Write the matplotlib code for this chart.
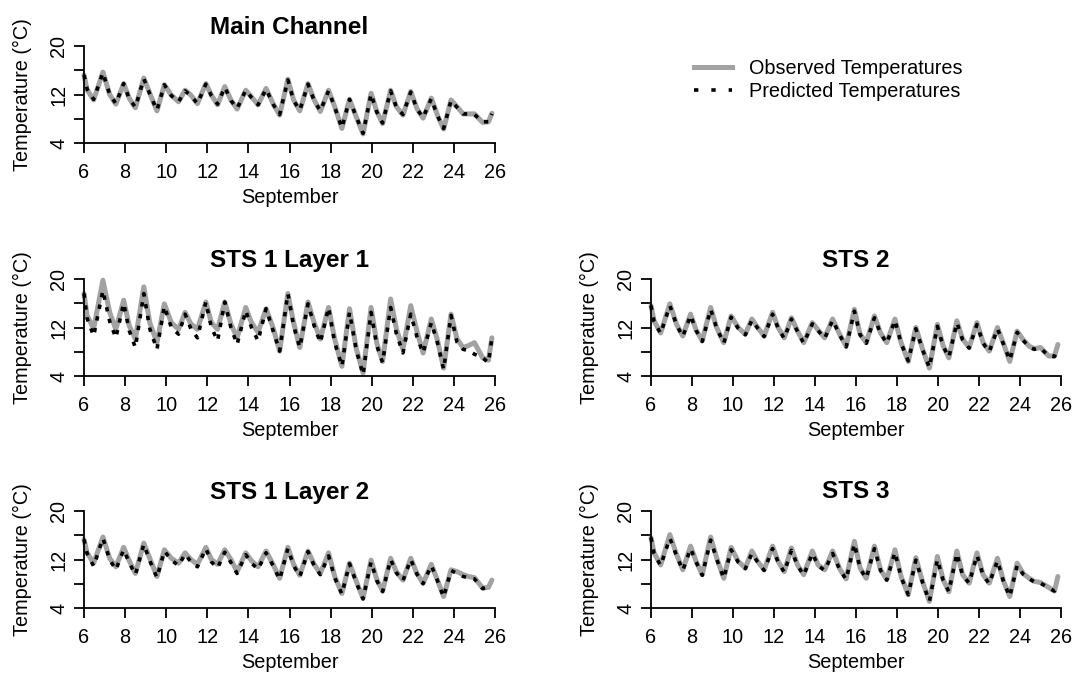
import matplotlib
matplotlib.use("Agg")
import matplotlib.pyplot as plt
from matplotlib.lines import Line2D

plt.rcParams['font.family'] = ['Liberation Sans', 'DejaVu Sans']

# Sample times (day of September)
time_days = [6.00, 6.15, 6.47, 6.92,
             7.25, 7.55, 7.93,
             8.20, 8.50, 8.91,
             9.20, 9.55, 9.91,
             10.25, 10.60, 10.92,
             11.20, 11.52, 11.93,
             12.20, 12.50, 12.85,
             13.15, 13.45, 13.87,
             14.15, 14.47, 14.86,
             15.20, 15.52, 15.92,
             16.20, 16.50, 16.90,
             17.20, 17.50, 17.90,
             18.20, 18.55, 18.92,
             19.25, 19.58, 19.97,
             20.25, 20.53, 20.92,
             21.20, 21.52, 21.90,
             22.20, 22.50, 22.90,
             23.20, 23.50, 23.86,
             24.15, 24.45, 24.70, 25.00, 25.40, 25.68, 25.85]

# Main Channel
main_obs = [15.2, 12.8, 11.1, 15.7,
            12.0, 10.4, 13.8,
            11.4, 9.8, 14.7,
            12.2, 9.3, 13.6,
            11.9, 10.8, 12.7,
            11.9, 10.5, 13.8,
            11.9, 10.3, 13.3,
            11.1, 9.6, 12.7,
            11.6, 10.3, 13.0,
            10.5, 8.6, 14.5,
            11.1, 9.3, 13.8,
            11.1, 9.2, 12.7,
            10.0, 6.4, 11.2,
            8.3, 5.5, 12.2,
            9.2, 7.2, 12.7,
            10.0, 8.6, 12.5,
            9.7, 8.1, 11.4,
            8.6, 6.3, 11.1,
            10.0, 8.8, 8.8, 8.8, 7.4, 7.5, 8.9]
main_pred = [15.2, 12.9, 11.2, 15.6,
             12.0, 10.5, 13.8,
             11.3, 9.9, 14.6,
             12.1, 9.4, 13.6,
             11.8, 10.8, 12.6,
             11.8, 10.5, 13.7,
             11.8, 10.4, 13.2,
             11.0, 9.7, 12.7,
             11.5, 10.3, 12.9,
             10.4, 8.7, 14.4,
             11.0, 9.4, 13.7,
             11.0, 9.3, 12.6,
             9.9, 6.5, 11.2,
             8.3, 5.6, 12.1,
             9.1, 7.3, 12.6,
             9.9, 8.7, 12.4,
             9.6, 8.2, 11.3,
             8.5, 6.4, 11.0,
             9.9, 8.8, 8.8, 8.7, 7.5, 7.5, 8.8]

# STS 1 Layer 1
sts1l1_obs = [17.6, 14.0, 11.8, 19.8,
              14.5, 11.7, 16.5,
              12.3, 10.1, 18.7,
              12.8, 9.5, 15.9,
              12.8, 11.7, 14.5,
              12.6, 11.7, 16.2,
              12.8, 11.7, 16.2,
              12.6, 10.3, 15.3,
              12.8, 11.2, 15.1,
              12.0, 8.1, 17.6,
              12.8, 8.7, 16.2,
              12.8, 10.1, 15.3,
              10.1, 5.6, 15.1,
              8.5, 4.5, 15.3,
              9.4, 6.4, 16.7,
              11.8, 8.4, 15.6,
              11.4, 7.8, 13.4,
              9.9, 5.3, 14.2,
              10.1, 8.7, 9.0, 9.5, 7.0, 6.6, 10.3]
sts1l1_pred = [17.6, 13.5, 10.6, 18.1,
               13.0, 10.3, 16.0,
               11.5, 8.7, 17.6,
               11.8, 8.4, 15.5,
               12.0, 10.9, 14.2,
               11.8, 10.3, 16.2,
               12.0, 9.8, 16.2,
               12.0, 9.2, 14.8,
               12.0, 9.8, 15.1,
               11.5, 8.1, 17.6,
               12.3, 8.7, 15.9,
               12.3, 9.5, 15.3,
               9.5, 5.6, 14.5,
               8.3, 4.2, 14.5,
               9.0, 6.2, 15.3,
               11.0, 7.8, 14.2,
               10.5, 7.8, 12.8,
               9.5, 5.1, 14.0,
               9.6, 8.4, 8.2, 7.6, 7.0, 6.2, 10.3]

# STS 2
sts2_obs = [15.6, 13.1, 11.1, 15.9,
            12.5, 10.6, 14.2,
            11.6, 9.8, 15.3,
            12.0, 9.5, 13.9,
            12.0, 10.9, 13.4,
            12.0, 10.6, 14.5,
            12.0, 10.3, 13.6,
            11.4, 9.5, 12.8,
            11.6, 10.3, 13.4,
            10.9, 8.9, 15.0,
            10.9, 9.5, 13.9,
            11.1, 9.5, 13.4,
            9.5, 6.4, 12.0,
            8.4, 5.3, 12.5,
            9.0, 7.0, 13.1,
            10.1, 8.7, 12.8,
            9.5, 8.1, 12.0,
            9.3, 6.4, 11.4,
            10.0, 8.9, 8.5, 8.7, 7.3, 7.3, 9.2]
sts2_pred = [15.6, 13.0, 11.0, 15.6,
             12.4, 10.5, 14.0,
             11.5, 9.7, 15.0,
             11.9, 9.4, 13.7,
             11.9, 10.8, 13.2,
             11.9, 10.5, 14.2,
             11.9, 10.2, 13.4,
             11.3, 9.4, 12.6,
             11.5, 10.2, 13.2,
             10.8, 8.8, 14.7,
             10.8, 9.4, 13.6,
             11.0, 9.4, 13.2,
             9.4, 6.5, 11.8,
             8.3, 5.4, 12.2,
             8.9, 7.1, 12.8,
             10.0, 8.6, 12.5,
             9.4, 8.0, 11.8,
             9.2, 6.6, 11.2,
             9.9, 8.8, 8.4, 8.6, 7.3, 7.2, 8.6]

# STS 1 Layer 2
sts1l2_obs = [15.3, 13.1, 11.4, 15.7,
              12.2, 10.8, 14.0,
              11.8, 9.7, 14.7,
              12.2, 9.2, 13.6,
              12.2, 11.4, 13.1,
              12.0, 11.2, 14.0,
              12.0, 11.2, 13.6,
              12.0, 10.0, 13.1,
              11.8, 10.8, 13.4,
              11.2, 8.9, 14.0,
              11.2, 9.4, 13.4,
              11.2, 9.7, 13.1,
              9.2, 6.4, 11.4,
              8.4, 5.6, 11.9,
              8.7, 6.8, 12.2,
              10.0, 8.6, 12.2,
              9.7, 8.1, 11.2,
              8.6, 5.9, 10.3,
              10.0, 9.5, 9.2, 9.0, 7.3, 7.4, 8.6]
sts1l2_pred = [15.3, 13.0, 10.9, 15.5,
               12.0, 10.3, 13.6,
               11.5, 9.5, 14.5,
               11.8, 9.0, 13.4,
               11.9, 11.0, 12.9,
               11.6, 10.8, 13.8,
               11.6, 10.6, 13.2,
               11.5, 9.7, 12.8,
               11.4, 10.4, 13.1,
               11.0, 8.7, 13.8,
               11.0, 9.2, 13.3,
               11.0, 9.5, 12.6,
               9.0, 6.3, 11.3,
               8.2, 5.5, 11.6,
               8.5, 6.7, 12.0,
               9.8, 8.5, 12.0,
               9.6, 8.0, 11.0,
               8.5, 5.8, 10.2,
               9.7, 9.2, 9.0, 8.8, 7.2, 7.4, 7.4]

# STS 3
sts3_obs = [15.6, 13.1, 11.1, 16.1,
            12.8, 10.3, 14.2,
            11.7, 9.5, 15.7,
            12.3, 8.9, 14.0,
            11.7, 10.6, 13.4,
            11.7, 10.3, 14.2,
            11.7, 10.0, 13.9,
            11.1, 9.5, 13.4,
            11.1, 10.3, 13.4,
            10.5, 8.8, 15.0,
            10.6, 8.9, 14.2,
            10.3, 8.7, 13.6,
            9.2, 6.2, 12.3,
            8.3, 5.1, 12.5,
            8.7, 6.7, 13.4,
            9.5, 8.1, 13.1,
            9.5, 8.1, 12.2,
            8.4, 5.9, 11.4,
            9.7, 8.9, 8.4, 8.2, 7.4, 6.8, 9.2]
sts3_pred = [15.6, 13.0, 11.0, 15.5,
             12.6, 10.2, 13.8,
             11.6, 9.4, 15.2,
             12.1, 8.9, 13.6,
             11.6, 10.5, 13.0,
             11.6, 10.2, 13.8,
             11.6, 9.9, 13.5,
             11.0, 9.4, 13.0,
             11.0, 10.2, 13.0,
             10.4, 8.7, 14.6,
             10.5, 8.9, 13.8,
             10.2, 8.6, 13.2,
             9.1, 6.2, 11.9,
             8.2, 5.1, 12.0,
             8.6, 6.7, 13.0,
             9.4, 8.1, 12.7,
             9.4, 8.0, 11.8,
             8.3, 5.9, 11.0,
             9.6, 8.8, 8.3, 8.1, 7.3, 6.8, 7.4]

x_ticks = list(range(6, 27, 2))
y_ticks = [4, 8, 12, 16, 20]
y_tick_labels = ['4', '', '12', '', '20']

OBS_COLOR = '#A2A2A2'
OBS_LW = 3.6
PRED_LW = 2.6
PRED_STYLE = (0, (1.2, 2.1))

W, H = 1074, 673
fig = plt.figure(figsize=(W / 100, H / 100), dpi=100)


def px_axes(left, top, right, bottom):
    return fig.add_axes([left / W, 1 - bottom / H, (right - left) / W, (bottom - top) / H])


panels = [
    ("Main Channel", main_obs, main_pred, (84, 46, 495, 143)),
    ("STS 1 Layer 1", sts1l1_obs, sts1l1_pred, (84, 279, 495, 376)),
    ("STS 2", sts2_obs, sts2_pred, (651, 279, 1061, 376)),
    ("STS 1 Layer 2", sts1l2_obs, sts1l2_pred, (84, 511, 495, 608)),
    ("STS 3", sts3_obs, sts3_pred, (651, 511, 1061, 608)),
]

FS = 14.3
for title, obs, pred, box in panels:
    ax = px_axes(*box)
    ax.plot(time_days, obs, color=OBS_COLOR, lw=OBS_LW,
            solid_joinstyle='round', solid_capstyle='round', clip_on=False)
    ax.plot(time_days, pred, color='black', lw=PRED_LW, linestyle=PRED_STYLE,
            dash_capstyle='butt', clip_on=False)
    ax.set_xlim(6, 26)
    ax.set_ylim(4, 20)
    for s in ('top', 'right'):
        ax.spines[s].set_visible(False)
    for s in ('left', 'bottom'):
        ax.spines[s].set_linewidth(1.3)
    ax.set_xticks(x_ticks)
    ax.set_yticks(y_ticks)
    ax.set_yticklabels(y_tick_labels)
    ax.tick_params(direction='out', length=7.5, width=1.3, labelsize=FS, colors='black')
    ax.tick_params(axis='x', pad=7)
    ax.tick_params(axis='y', pad=4)
    for lbl in ax.get_yticklabels():
        lbl.set_rotation(90)
        lbl.set_va('center')
    ax.set_xlabel('September', fontsize=FS, labelpad=4)
    ax.set_ylabel('Temperature (°C)', fontsize=FS, labelpad=12)
    ax.set_title(title, fontsize=17.5, fontweight='bold', pad=9)

handles = [Line2D([], [], color=OBS_COLOR, lw=OBS_LW),
           Line2D([], [], color='black', lw=PRED_LW, linestyle=(0, (1.2, 3.6)))]
fig.legend(handles, ['Observed Temperatures', 'Predicted Temperatures'],
           loc='upper left', bbox_to_anchor=(694 / W, 1 - 59 / H),
           frameon=False, fontsize=FS, handlelength=1.9, handletextpad=0.85,
           borderpad=0, borderaxespad=0, labelspacing=0.22)

fig.savefig('out.png', dpi=100)
